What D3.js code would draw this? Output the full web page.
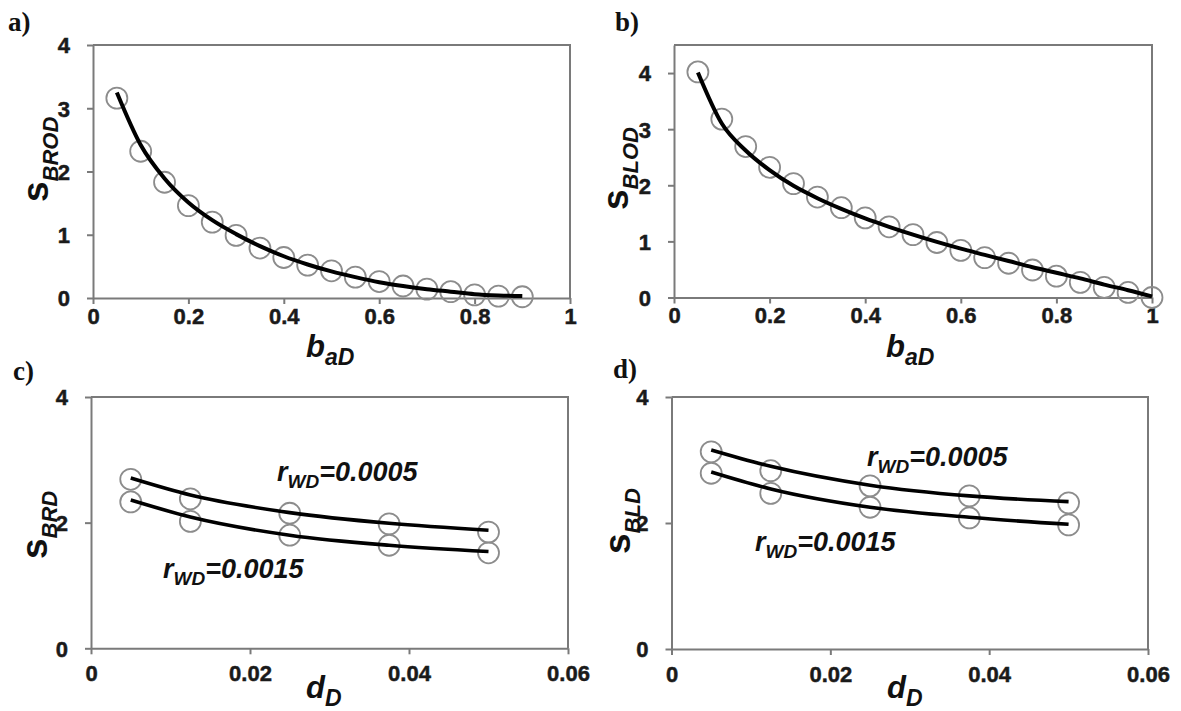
<!DOCTYPE html>
<html>
<head>
<meta charset="utf-8">
<script src="https://cdn.jsdelivr.net/npm/d3@7"></script>
<style>
  html, body { margin: 0; padding: 0; background: #fff; }
  svg { display: block; }
  .lbl { font-family: "Liberation Sans", Arial, sans-serif; font-weight: bold; fill: #111; }
  .panel-tag { font-family: "Liberation Serif", "Times New Roman", serif; font-weight: bold; font-size: 27px; fill: #111; }
</style>
</head>
<body>
<svg id="fig" width="1181" height="711"></svg>
<script>
// ---- data -------------------------------------------------------------
// a) S_BROD versus b_aD
const baA = [0.05, 0.10, 0.15, 0.20, 0.25, 0.30, 0.35, 0.40, 0.45, 0.50, 0.55, 0.60, 0.65, 0.70, 0.75, 0.80, 0.85, 0.90];
const sBRODpts = [3.16, 2.32, 1.83, 1.46, 1.20, 0.99, 0.79, 0.64, 0.52, 0.43, 0.33, 0.26, 0.19, 0.14, 0.10, 0.05, 0.03, 0.02];
const sBRODfit = [3.25, 2.42, 1.89, 1.51, 1.23, 1.01, 0.82, 0.66, 0.53, 0.42, 0.33, 0.25, 0.19, 0.14, 0.10, 0.06, 0.04, 0.03];

// b) S_BLOD versus b_aD
const baB = [0.05, 0.10, 0.15, 0.20, 0.25, 0.30, 0.35, 0.40, 0.45, 0.50, 0.55, 0.60, 0.65, 0.70, 0.75, 0.80, 0.85, 0.90, 0.95, 1.00];
const sBLODpts = [4.02, 3.18, 2.69, 2.32, 2.03, 1.79, 1.60, 1.42, 1.26, 1.12, 0.98, 0.84, 0.71, 0.61, 0.49, 0.38, 0.27, 0.18, 0.09, 0.00];
const sBLODfit = [4.01, 3.10, 2.62, 2.27, 1.99, 1.77, 1.58, 1.41, 1.26, 1.12, 0.99, 0.87, 0.76, 0.65, 0.54, 0.44, 0.34, 0.23, 0.13, 0.02];

// c), d) versus d_D for two values of r_WD
const dD = [0.005, 0.0125, 0.025, 0.0375, 0.05];
const sBRD_0005pts = [2.69, 2.38, 2.15, 1.98, 1.85];
const sBRD_0005fit = [2.71, 2.44, 2.16, 1.99, 1.88];
const sBRD_0015pts = [2.33, 2.02, 1.80, 1.64, 1.52];
const sBRD_0015fit = [2.36, 2.09, 1.80, 1.64, 1.54];
const sBLD_0005pts = [3.13, 2.83, 2.59, 2.43, 2.32];
const sBLD_0005fit = [3.16, 2.90, 2.60, 2.43, 2.34];
const sBLD_0015pts = [2.79, 2.47, 2.25, 2.08, 1.97];
const sBLD_0015fit = [2.81, 2.54, 2.25, 2.09, 1.98];

// tick values
const ticksBa = [0, 0.2, 0.4, 0.6, 0.8, 1];
const ticksD = [0, 0.02, 0.04, 0.06];
const ticksS1 = [0, 1, 2, 3, 4];
const ticksS2 = [0, 2, 4];

// ---- drawing ----------------------------------------------------------
const svg = d3.select("#fig");
const AXIS = "#7a7a7a";
const fmt = d3.format("~g");

function zip(xs, ys) { return xs.map((x, i) => [x, ys[i]]); }

function panel(cfg) {
  const x = d3.scaleLinear().domain(cfg.xDomain).range([cfg.left, cfg.right]);
  const y = d3.scaleLinear().domain(cfg.yDomain).range([cfg.bottom, cfg.top]);
  const g = svg.append("g");

  // frame (top and right edges)
  g.append("path")
    .attr("d", `M${cfg.left},${cfg.top}H${cfg.right}V${cfg.bottom}`)
    .attr("fill", "none").attr("stroke", AXIS).attr("stroke-width", 2);

  const gx = g.append("g").attr("transform", `translate(0,${cfg.bottom})`)
    .call(d3.axisBottom(x).tickValues(cfg.xTicks).tickFormat(fmt)
      .tickSize(6).tickSizeOuter(0).tickPadding(cfg.xPad));
  const gy = g.append("g").attr("transform", `translate(${cfg.left},0)`)
    .call(d3.axisLeft(y).tickValues(cfg.yTicks).tickFormat(fmt)
      .tickSize(6).tickSizeOuter(0).tickPadding(17));
  [gx, gy].forEach(a => {
    a.attr("font-family", "'Liberation Sans', Arial, sans-serif")
     .attr("font-size", 22).attr("font-weight", "bold");
    a.select(".domain").attr("stroke", AXIS).attr("stroke-width", 2);
    a.selectAll(".tick line").attr("stroke", AXIS).attr("stroke-width", 2);
    a.selectAll(".tick text").attr("fill", "#1a1a1a")
      .attr("stroke", "#1a1a1a").attr("stroke-width", 0.5);
  });
  gy.selectAll(".tick text").attr("dy", "0.36em");

  const line = d3.line().x(d => x(d[0])).y(d => y(d[1])).curve(d3.curveMonotoneX);

  cfg.series.forEach(s => {
    g.append("g").selectAll("circle").data(zip(s.x, s.pts)).join("circle")
      .attr("cx", d => x(d[0])).attr("cy", d => y(d[1])).attr("r", 10.5)
      .attr("fill", "none").attr("stroke", "#8c8c8c").attr("stroke-width", 1.8);
  });
  cfg.series.forEach(s => {
    g.append("path").datum(zip(s.x, s.fit)).attr("d", line)
      .attr("fill", "none").attr("stroke", "#000").attr("stroke-width", cfg.lineW)
      .attr("stroke-linecap", "butt");
  });

  // panel tag
  g.append("text").attr("class", "panel-tag").attr("x", cfg.tag[0]).attr("y", cfg.tag[1]).text(cfg.tagText);

  // y-axis title (rotated)
  const yt = g.append("text").attr("class", "lbl")
    .attr("transform", `translate(${cfg.yTitle[0]},${cfg.yTitle[1]}) rotate(-90)`);
  yt.append("tspan").attr("font-size", 37).text("s");
  yt.append("tspan").attr("font-size", 22).attr("font-style", "italic").attr("dy", 10).text(cfg.ySub);

  // x-axis title
  const xt = g.append("text").attr("class", "lbl").attr("font-style", "italic")
    .attr("x", cfg.xTitle[0]).attr("y", cfg.xTitle[1]);
  xt.append("tspan").attr("font-size", 31).text(cfg.xMain);
  xt.append("tspan").attr("font-size", 23).attr("dy", 8).text(cfg.xSub);

  // curve annotations
  (cfg.notes || []).forEach(n => {
    const t = g.append("text").attr("class", "lbl").attr("font-style", "italic")
      .attr("x", n.at[0]).attr("y", n.at[1]);
    t.append("tspan").attr("font-size", 27).text("r");
    t.append("tspan").attr("font-size", 19).attr("dy", 7).text("WD");
    t.append("tspan").attr("font-size", 27).attr("dy", -7).text("=" + n.text);
  });
}

panel({
  left: 93, right: 570, top: 45, bottom: 298,
  xDomain: [0, 1], yDomain: [0, 4], xTicks: ticksBa, yTicks: ticksS1, xPad: 4,
  lineW: 4, tag: [8, 31], tagText: "a)",
  yTitle: [48, 202], ySub: "BROD", xTitle: [306, 357], xMain: "b", xSub: "aD",
  series: [{ x: baA, pts: sBRODpts, fit: sBRODfit }]
});

panel({
  left: 674, right: 1152, top: 45, bottom: 297.5,
  xDomain: [0, 1], yDomain: [0, 4.5], xTicks: ticksBa, yTicks: ticksS1, xPad: 4,
  lineW: 4, tag: [615, 31], tagText: "b)",
  yTitle: [628, 210], ySub: "BLOD", xTitle: [886, 357], xMain: "b", xSub: "aD",
  series: [{ x: baB, pts: sBLODpts, fit: sBLODfit }]
});

panel({
  left: 91, right: 568, top: 397, bottom: 648.3,
  xDomain: [0, 0.06], yDomain: [0, 4], xTicks: ticksD, yTicks: ticksS2, xPad: 11,
  lineW: 3.6, tag: [13, 380], tagText: "c)",
  yTitle: [47, 559], ySub: "BRD", xTitle: [306, 698], xMain: "d", xSub: "D",
  series: [
    { x: dD, pts: sBRD_0005pts, fit: sBRD_0005fit },
    { x: dD, pts: sBRD_0015pts, fit: sBRD_0015fit }
  ],
  notes: [{ at: [277, 481], text: "0.0005" }, { at: [163, 578], text: "0.0015" }]
});

panel({
  left: 671.5, right: 1148, top: 397, bottom: 649,
  xDomain: [0, 0.06], yDomain: [0, 4], xTicks: ticksD, yTicks: ticksS2, xPad: 11,
  lineW: 3.6, tag: [613, 378], tagText: "d)",
  yTitle: [630, 554], ySub: "BLD", xTitle: [887, 698], xMain: "d", xSub: "D",
  series: [
    { x: dD, pts: sBLD_0005pts, fit: sBLD_0005fit },
    { x: dD, pts: sBLD_0015pts, fit: sBLD_0015fit }
  ],
  notes: [{ at: [867, 466], text: "0.0005" }, { at: [755, 551], text: "0.0015" }]
});
</script>
</body>
</html>
